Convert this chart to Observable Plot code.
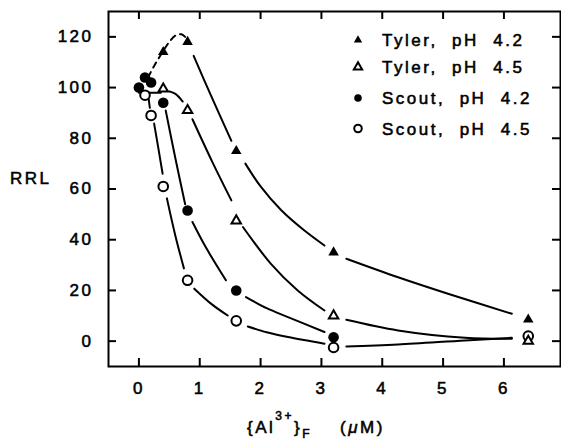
<!DOCTYPE html>
<html><head><meta charset="utf-8">
<script src="https://cdn.jsdelivr.net/npm/d3@7"></script>
<script src="https://cdn.jsdelivr.net/npm/@observablehq/plot@0.6"></script>
<style>
body{margin:0;background:#fff;}
svg text{font-family:"Liberation Sans",Arial,sans-serif;}
</style></head><body><div id="chart"></div>
<script>
// ---- tick values ----
const xTicks = [0, 1, 2, 3, 4, 5, 6];
const yTicks = [0, 20, 40, 60, 80, 100, 120];
const seriesNames = ["Tyler,\u00a0\u00a0pH\u00a0\u00a04.2", "Tyler,\u00a0\u00a0pH\u00a0\u00a04.5", "Scout,\u00a0\u00a0pH\u00a0\u00a04.2", "Scout,\u00a0\u00a0pH\u00a0\u00a04.5"];

// ---- measured points ----
const tyler42X = [0.4, 0.8, 1.6, 3.2, 6.4];
const tyler42Y = [114, 118, 75, 35, 8.5];
const tyler45X = [0.4, 0.8, 1.6, 3.2, 6.4];
const tyler45Y = [99.5, 91, 47.5, 10, 0];
const scout42X = [0, 0.1, 0.2, 0.4, 0.8, 1.6, 3.2];
const scout42Y = [100, 104, 102, 94, 51.5, 20, 1.5];
const scout45X = [0.1, 0.2, 0.4, 0.8, 1.6, 3.2, 6.4];
const scout45Y = [97, 89, 61, 24, 8, -2.5, 2];

// ---- fitted curves, segments broken at markers ----
const tyler42Dashed = [[[0.15, 104], [0.25, 108.5], [0.4, 114.5], [0.5, 118], [0.6, 120.5], [0.7, 121], [0.76, 120]]];
const tyler42Solid = [
  [[0.9, 112.5], [1.2, 96], [1.52, 79]],
  [[1.75, 70], [2.0, 61], [2.34, 51.6], [2.7, 44], [3.05, 37.7]],
  [[3.41, 32.5], [4.26, 25.2], [5.08, 18.7], [6.13, 10.8]]
];
const tyler45Solid = [
  [[0.0, 98], [0.36, 98]],
  [[0.5, 98.5], [0.6, 97.5], [0.72, 94.5]],
  [[0.88, 87.5], [1.2, 71], [1.52, 55.5]],
  [[1.71, 45], [2.17, 30.5], [2.61, 20], [3.05, 12.1]],
  [[3.41, 8.4], [4.26, 4.2], [5.36, 1.3], [6.13, 0.9]]
];
const scout42Solid = [
  [[0.44, 91], [0.6, 72], [0.76, 54]],
  [[0.88, 47], [1.1, 37], [1.43, 24]],
  [[1.76, 17.4], [2.1, 13], [2.45, 9.5], [3.05, 3.6]]
];
const scout45Solid = [
  [[0.16, 95.5], [0.18, 92]],
  [[0.25, 85.8], [0.32, 76], [0.39, 66]],
  [[0.46, 56.3], [0.6, 41.5], [0.74, 28.7]],
  [[0.91, 20.7], [1.2, 14.5], [1.46, 10.1]],
  [[1.79, 5.8], [2.1, 3.5], [2.45, 1.6], [3.05, -1]],
  [[3.41, -2.1], [4.26, -1.3], [5.36, 0.3], [6.13, 1.3]]
];

// ---- build tables ----
const pts = (xs, ys) => xs.map((x, i) => ({x, y: ys[i]}));
const segRows = (name, segs) => segs.flatMap((s, i) => s.map(([x, y]) => ({seg: name + i, x, y})));
const solidRows = [
  ...segRows("t42", tyler42Solid), ...segRows("t45", tyler45Solid),
  ...segRows("s42", scout42Solid), ...segRows("s45", scout45Solid)
];
const dashedRows = segRows("t42d", tyler42Dashed);

const W = 561, H = 439, mL = 108, mR = 1, mT = 11, mB = 73;
const plotW = W - mL - mR, plotH = H - mT - mB, tk = 8;
const FS = 17, LS = "2.5px", SW = 0.55;

const chart = Plot.plot({
  width: W, height: H,
  marginLeft: mL, marginRight: mR, marginTop: mT, marginBottom: mB,
  x: {domain: [-0.5, 6.93]},
  y: {domain: [-10, 130]},
  style: {background: "white", fontSize: FS + "px"},
  marks: [
    Plot.line(solidRows, {x: "x", y: "y", z: "seg", curve: "catmull-rom", stroke: "black", strokeWidth: 2}),
    Plot.line(dashedRows, {x: "x", y: "y", z: "seg", curve: "catmull-rom", stroke: "black", strokeWidth: 2, strokeDasharray: "6,5"}),
    Plot.dot(pts(scout45X, scout45Y), {x: "x", y: "y", r: 4.8, fill: "white", stroke: "black", strokeWidth: 2}),
    Plot.dot(pts(tyler45X, tyler45Y), {x: "x", y: "y", symbol: "triangle", r: 3.5, fill: "white", stroke: "black", strokeWidth: 2}),
    Plot.dot(pts(scout42X, scout42Y), {x: "x", y: "y", r: 5.3, fill: "black"}),
    Plot.dot(pts(tyler42X, tyler42Y), {x: "x", y: "y", symbol: "triangle", r: 3.9, fill: "black"}),
    Plot.frame({stroke: "black", strokeWidth: 2}),
    Plot.tickX(xTicks, {x: d => d, insetTop: plotH - tk, strokeWidth: 2}),
    Plot.tickX(xTicks, {x: d => d, insetBottom: plotH - tk, strokeWidth: 2}),
    Plot.tickY(yTicks, {y: d => d, insetRight: plotW - tk, strokeWidth: 2}),
    Plot.tickY(yTicks, {y: d => d, insetLeft: plotW - tk, strokeWidth: 2}),
    Plot.axisX({ticks: xTicks, tickSize: 0, tickPadding: 15, label: null, fill: "black"}),
    Plot.axisY({ticks: yTicks, tickSize: 0, tickPadding: 15, label: null, fill: "black"})
  ]
});
document.getElementById("chart").appendChild(chart);

const svg = d3.select(chart);
svg.selectAll("text").attr("letter-spacing", LS).style("font-size", FS + "px")
  .attr("stroke", "black").attr("stroke-width", SW);

const addText = (x, y) => svg.append("text").attr("x", x).attr("y", y)
  .attr("text-anchor", "start").style("font-size", FS + "px").attr("letter-spacing", LS)
  .attr("fill", "black").attr("stroke", "black").attr("stroke-width", SW);

// y label
addText(10, 184).text("RRL");

// x label with super/subscripts
const xl = addText(247, 432.5);
xl.append("tspan").text("{Al");
xl.append("tspan").style("font-size", "12px").attr("dy", -13).text("3+");
xl.append("tspan").attr("dy", 13).text("}");
xl.append("tspan").style("font-size", "12px").attr("dy", 5).text("F");
xl.append("tspan").attr("x", 340).attr("dy", -5).text("(");
xl.append("tspan").attr("font-style", "italic").text("\u03bc");
xl.append("tspan").text("M)");

// legend
const legendRows = [40, 67, 98, 128.5];
seriesNames.forEach((name, i) => {
  const y = legendRows[i];
  const isTri = i < 2, filled = i % 2 === 0;
  const sym = d3.symbol().type(isTri ? d3.symbolTriangle : d3.symbolCircle).size(isTri ? 30 : 45)();
  svg.append("path").attr("d", sym).attr("transform", `translate(358,${y})`)
    .attr("fill", filled ? "black" : "white").attr("stroke", "black").attr("stroke-width", filled ? 0 : 2);
  addText(382, y + 6).text(name);
});
</script></body></html>
